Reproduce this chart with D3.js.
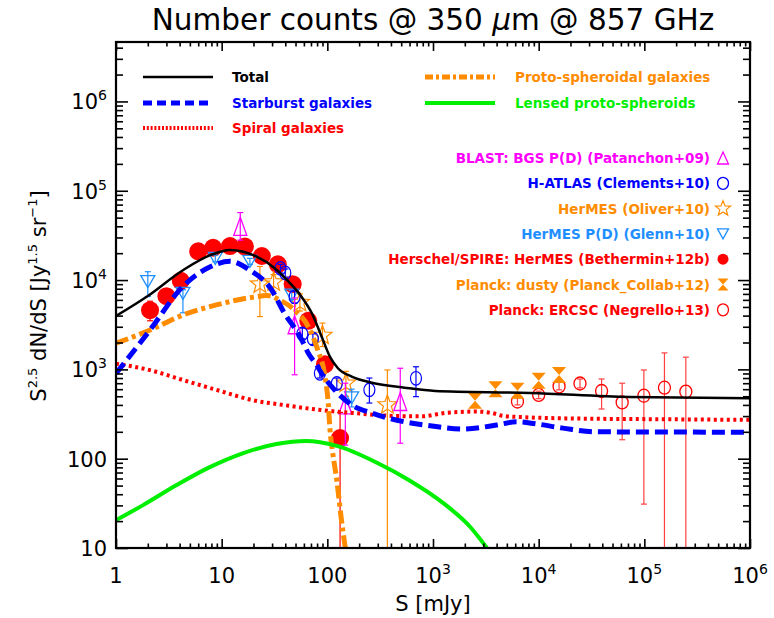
<!DOCTYPE html>
<html><head><meta charset="utf-8">
<script src="https://cdn.jsdelivr.net/npm/d3@7"></script>
<style>body{margin:0;background:#fff} svg{display:block}</style>
</head><body><svg id="c" width="774" height="618"></svg>
<script>
// ---------------- DATA ----------------
const xTicks = [1, 10, 100, 1e3, 1e4, 1e5, 1e6];
const xTickLabels = [["1",""],["10",""],["100",""],["10","3"],["10","4"],["10","5"],["10","6"]];
const yTicks = [10, 100, 1e3, 1e4, 1e5, 1e6];
const yTickLabels = [["10",""],["100",""],["10","3"],["10","4"],["10","5"],["10","6"]];

// model curves: [S (mJy), S^2.5 dN/dS]
const totalCurve = [[1,3960],[1.95,6500],[4.3,12900],[7.8,19000],[12,21700],[21,18500],[32,13500],[43,9600],[57,6500],[71,4300],[88,2350],[106,1380],[126,1030],[170,830],[263,710],[537,624],[1050,573],[8300,545],[72000,490],[1e6,476]];
const starburstCurve = [[1,900],[2.1,2760],[4.3,8500],[7.8,14100],[12,16200],[18.5,12900],[29,8100],[40,4100],[53,2530],[59,2000],[66,1520],[80,1100],[88,905],[117,590],[170,400],[263,324],[537,259],[980,232],[1900,215],[4000,238],[6200,259],[9500,245],[17000,220],[35000,200],[1e6,198]];
const spiralCurve = [[1,1160],[2.1,980],[4.3,760],[8.9,590],[20,450],[38,400],[88,350],[180,324],[460,300],[780,298],[1350,327],[2600,337],[3600,325],[4600,302],[8000,290],[17000,283],[180000,276],[1e6,272]];
const protoCurve = [[1,1960],[2.1,2760],[4.3,4060],[8.9,5270],[18.5,6350],[27,6700],[35,6000],[49,4600],[66,3000],[81,1660],[95,830],[102,420],[106,210],[112,120],[123,57],[135,22],[148,10],[152,8]];
const lensedCurve = [[1,20.5],[1.82,30.4],[3.75,50.7],[7.8,81],[15.8,115],[33,146],[63,158],[123,139],[295,90],[600,57],[1260,31.6],[2240,17.3],[3240,10]];

// data points: [S, value, errLow, errHigh]
const blastPts = [[15,40000,28000,57000],[49,3160,870,6300],[148,400,142,700],[490,437,149,1030]];
const hatlasPts = [[36,13500,12000,15000],[40,12000,10800,13300],[49,6500,5500,7500],[58,2500,2200,2900],[73,2200,1900,2500],[85,905,800,1020],[123,695,600,800],[250,590,420,800],[690,795,495,1070]];
const oliverPts = [[23,9000,3900,14200],[31,9500,7500,11500],[55,5600,4500,7000],[90,2400,1800,3300],[150,700,500,950],[370,400,5,985]];
const glennPts = [[2.0,9600,6550,12400],[4.3,7100,4300,7800],[8.7,17500,16000,19000],[18.5,16200,15000,17500],[46,6800,6000,7700],[170,480,380,600]];
const bethPts = [[2.1,4600,3500,5800],[3.0,6600,6000,7200],[4.1,9800,9000,10700],[6.0,21000,19500,22500],[8.3,23000,21500,24500],[12,24000,22500,25500],[16.6,23700,22200,25200],[24,18600,17300,20000],[34,15000,13800,16200],[47,9000,8200,9800],[66,3500,3100,3900],[95,1140,1000,1300],[132,170,5,330]];
const dustyPts = [[2500,445],[3900,600],[6300,575],[10000,745],[15600,865]];
const negrelloPts = [[6300,437,400,480],[10000,517,470,570],[15600,645,590,720],[24600,695,620,780],[39400,573,360,780],[61700,427,163,700],[99000,507,31,985],[155000,624,5,1530],[247000,563,5,1370]];

const legendModels = ["Total","Starburst galaxies","Spiral galaxies","Proto-spheroidal galaxies","Lensed proto-spheroids"];
const legendData = ["BLAST: BGS P(D) (Patanchon+09)","H-ATLAS (Clements+10)","HerMES (Oliver+10)","HerMES P(D) (Glenn+10)","Herschel/SPIRE: HerMES (Bethermin+12b)","Planck: dusty (Planck_Collab+12)","Planck: ERCSC (Negrello+13)"];

// ---------------- STYLE ----------------
const C = {black:"#000", blue:"#0000ff", red:"#ff0000", orange:"#ff8c00", green:"#00ee00", magenta:"#ff00ff", lblue:"#1f8fff"};
const FONT = "DejaVu Sans";

const svg = d3.select("#c");
const W = 774, H = 618;
const L = 116, R = 750, T = 42, B = 548;
const x = d3.scaleLog().domain([1, 1e6]).range([L, R]);
const y = d3.scaleLog().domain([10, 4.63e6]).range([B, T]);

svg.append("rect").attr("width", W).attr("height", H).attr("fill", "#fff");
svg.append("clipPath").attr("id", "clip").append("rect")
  .attr("x", L).attr("y", T).attr("width", R - L).attr("height", B - T);

// symbol paths
const triUp = (w, h) => `M0,${-h/2}L${w/2},${h/2}L${-w/2},${h/2}Z`;
const triDown = (w, h) => `M0,${h/2}L${w/2},${-h/2}L${-w/2},${-h/2}Z`;
const star = (r1, r2) => {
  let p = "";
  for (let i = 0; i < 10; i++) {
    const r = i % 2 ? r2 : r1, a = -Math.PI/2 + i * Math.PI/5;
    p += (i ? "L" : "M") + (r*Math.cos(a)).toFixed(2) + "," + (r*Math.sin(a)).toFixed(2);
  }
  return p + "Z";
};
const bowtie = (hw, hh) => `M${-hw},${-hh}L${hw},${-hh}L0,0Z M${-hw},${hh}L${hw},${hh}L0,0Z`;

const plot = svg.append("g").attr("clip-path", "url(#clip)");
const ptsG = plot.append("g");

function errBars(data, color, opacity) {
  const g = ptsG.append("g").attr("stroke", color).attr("stroke-width", 1.2).attr("opacity", opacity || 1);
  data.forEach(d => {
    if (d.length < 4) return;
    const cx = x(d[0]);
    g.append("line").attr("x1", cx).attr("x2", cx).attr("y1", y(d[2])).attr("y2", y(d[3]));
    [d[2], d[3]].forEach(v => g.append("line").attr("x1", cx - 3).attr("x2", cx + 3).attr("y1", y(v)).attr("y2", y(v)));
  });
}
function pathPts(data, path, stroke, fill, sw) {
  ptsG.append("g").selectAll("path").data(data).join("path")
    .attr("transform", d => `translate(${x(d[0])},${y(d[1])})`)
    .attr("d", path).attr("fill", fill).attr("stroke", stroke).attr("stroke-width", sw);
}
function ellPts(data, rx, ry, stroke, fill, sw) {
  ptsG.append("g").selectAll("ellipse").data(data).join("ellipse")
    .attr("cx", d => x(d[0])).attr("cy", d => y(d[1])).attr("rx", rx).attr("ry", ry)
    .attr("fill", fill).attr("stroke", stroke).attr("stroke-width", sw);
}

errBars(bethPts, C.red);
ellPts(bethPts, 9, 9, "none", C.red, 0);
errBars(negrelloPts, C.red, 0.75);
ellPts(negrelloPts, 6, 6.5, C.red, "none", 1.3);
pathPts(dustyPts, bowtie(7, 8), "none", C.orange, 0);
errBars(oliverPts, C.orange);
pathPts(oliverPts, star(10, 4.2), C.orange, "none", 1.2);
errBars(glennPts, C.lblue);
pathPts(glennPts, triDown(14, 12), C.lblue, "none", 1.3);
errBars(hatlasPts, C.blue);
ellPts(hatlasPts, 5.5, 6.8, C.blue, "none", 1.2);
errBars(blastPts, C.magenta);
pathPts(blastPts, triUp(13, 18), C.magenta, "none", 1.3);

// curves
const line = d3.line().x(d => x(d[0])).y(d => y(d[1])).curve(d3.curveMonotoneX);
const curvesG = plot.append("g").attr("fill", "none");
curvesG.append("path").attr("d", line(spiralCurve)).attr("stroke", C.red).attr("stroke-width", 4).attr("stroke-dasharray", "3,3.5");
curvesG.append("path").attr("d", line(protoCurve)).attr("stroke", C.orange).attr("stroke-width", 5).attr("stroke-dasharray", "13,4,4,4");
curvesG.append("path").attr("d", line(lensedCurve)).attr("stroke", C.green).attr("stroke-width", 4);
curvesG.append("path").attr("d", line(starburstCurve)).attr("stroke", C.blue).attr("stroke-width", 5).attr("stroke-dasharray", "13,6");
curvesG.append("path").attr("d", line(totalCurve)).attr("stroke", C.black).attr("stroke-width", 2.5);

// axes ticks (inward, on all four sides)
function minorVals(domain) {
  const out = [];
  for (let e = Math.floor(Math.log10(domain[0])); e <= Math.ceil(Math.log10(domain[1])); e++)
    for (let m = 2; m <= 9; m++) { const v = m * Math.pow(10, e); if (v > domain[0] && v < domain[1]) out.push(v); }
  return out;
}
const xMinor = minorVals(x.domain()), yMinor = minorVals(y.domain());
function addAxis(gen, tr, vals, size) {
  const g = svg.append("g").attr("transform", tr)
    .call(gen.tickValues(vals).tickSize(size).tickFormat(""));
  g.select(".domain").remove();
  g.selectAll("line").attr("stroke", "#000").attr("stroke-width", 1.6);
}
addAxis(d3.axisBottom(x), `translate(0,${B})`, xTicks, -9);
addAxis(d3.axisBottom(x), `translate(0,${B})`, xMinor, -4.5);
addAxis(d3.axisTop(x), `translate(0,${T})`, xTicks, -9);
addAxis(d3.axisTop(x), `translate(0,${T})`, xMinor, -4.5);
addAxis(d3.axisLeft(y), `translate(${L},0)`, yTicks, -12);
addAxis(d3.axisLeft(y), `translate(${L},0)`, yMinor, -7);
addAxis(d3.axisRight(y), `translate(${R},0)`, yTicks, -12);
addAxis(d3.axisRight(y), `translate(${R},0)`, yMinor, -7);
svg.append("rect").attr("x", L).attr("y", T).attr("width", R - L).attr("height", B - T)
  .attr("fill", "none").attr("stroke", "#000").attr("stroke-width", 2.2);

// tick labels
xTicks.forEach((v, i) => {
  const t = svg.append("text").attr("x", x(v)).attr("y", 583).attr("text-anchor", "middle")
    .attr("font-family", FONT).attr("font-size", 21);
  t.append("tspan").text(xTickLabels[i][0]);
  if (xTickLabels[i][1]) t.append("tspan").attr("font-size", 14).attr("dy", -9).text(xTickLabels[i][1]);
});
yTicks.forEach((v, i) => {
  const t = svg.append("text").attr("x", 107).attr("y", y(v) + 8).attr("text-anchor", "end")
    .attr("font-family", FONT).attr("font-size", 21);
  t.append("tspan").text(yTickLabels[i][0]);
  if (yTickLabels[i][1]) t.append("tspan").attr("font-size", 14).attr("dy", -9).text(yTickLabels[i][1]);
});

// title
const title = svg.append("text").attr("x", 433).attr("y", 30).attr("text-anchor", "middle")
  .attr("font-family", FONT).attr("font-size", 29.5);
title.append("tspan").text("Number counts @ 350 ");
title.append("tspan").attr("font-style", "italic").text("μ");
title.append("tspan").text("m @ 857 GHz");

// axis titles
svg.append("text").attr("x", 433).attr("y", 611).attr("text-anchor", "middle")
  .attr("font-family", FONT).attr("font-size", 21).text("S [mJy]");
const yl = svg.append("text").attr("transform", "translate(46,296) rotate(-90)").attr("text-anchor", "middle")
  .attr("font-family", FONT).attr("font-size", 21);
yl.append("tspan").text("S");
yl.append("tspan").attr("font-size", 13).attr("dy", -9).text("2.5");
yl.append("tspan").attr("dy", 9).text(" dN/dS [Jy");
yl.append("tspan").attr("font-size", 13).attr("dy", -9).text("1.5");
yl.append("tspan").attr("dy", 9).text(" sr");
yl.append("tspan").attr("font-size", 13).attr("dy", -9).text("−1");
yl.append("tspan").attr("dy", 9).text("]");

// model legend
const lg = svg.append("g").attr("font-family", FONT).attr("font-weight", "bold").attr("font-size", 13.5);
const modelStyles = [
  {c: C.black, w: 2.5, dash: null, x0: 143, yy: 77, tx: 232},
  {c: C.blue, w: 5, dash: "9,5", x0: 143, yy: 103, tx: 232},
  {c: C.red, w: 4, dash: "2,1.8", x0: 143, yy: 128, tx: 232},
  {c: C.orange, w: 5, dash: "8,3,3,3", x0: 425, yy: 77, tx: 515},
  {c: C.green, w: 4, dash: null, x0: 425, yy: 103, tx: 515}
];
legendModels.forEach((name, i) => {
  const s = modelStyles[i];
  lg.append("line").attr("x1", s.x0).attr("x2", s.x0 + 70).attr("y1", s.yy).attr("y2", s.yy)
    .attr("stroke", s.c).attr("stroke-width", s.w).attr("stroke-dasharray", s.dash);
  lg.append("text").attr("x", s.tx).attr("y", s.yy + 5).attr("fill", s.c).text(name);
});

// data legend
const dataStyles = [
  {c: C.magenta, sym: g => g.append("path").attr("d", triUp(11, 12)).attr("fill", "none").attr("stroke", C.magenta).attr("stroke-width", 1.3)},
  {c: C.blue, sym: g => g.append("ellipse").attr("rx", 5.5).attr("ry", 6).attr("fill", "none").attr("stroke", C.blue).attr("stroke-width", 1.3)},
  {c: C.orange, sym: g => g.append("path").attr("d", star(8, 3.4)).attr("fill", "none").attr("stroke", C.orange).attr("stroke-width", 1.2)},
  {c: C.lblue, sym: g => g.append("path").attr("d", triDown(11, 10)).attr("fill", "none").attr("stroke", C.lblue).attr("stroke-width", 1.3)},
  {c: C.red, sym: g => g.append("circle").attr("r", 5.5).attr("fill", C.red)},
  {c: C.orange, sym: g => g.append("path").attr("d", bowtie(5.5, 6)).attr("fill", C.orange)},
  {c: C.red, sym: g => g.append("ellipse").attr("rx", 5.5).attr("ry", 6).attr("fill", "none").attr("stroke", C.red).attr("stroke-width", 1.3)}
];
legendData.forEach((name, i) => {
  const yy = 158 + i * 25.3, s = dataStyles[i];
  lg.append("text").attr("x", 710).attr("y", yy + 5).attr("text-anchor", "end").attr("fill", s.c).text(name);
  s.sym(lg.append("g").attr("transform", `translate(723,${yy})`));
});
</script></body></html>
